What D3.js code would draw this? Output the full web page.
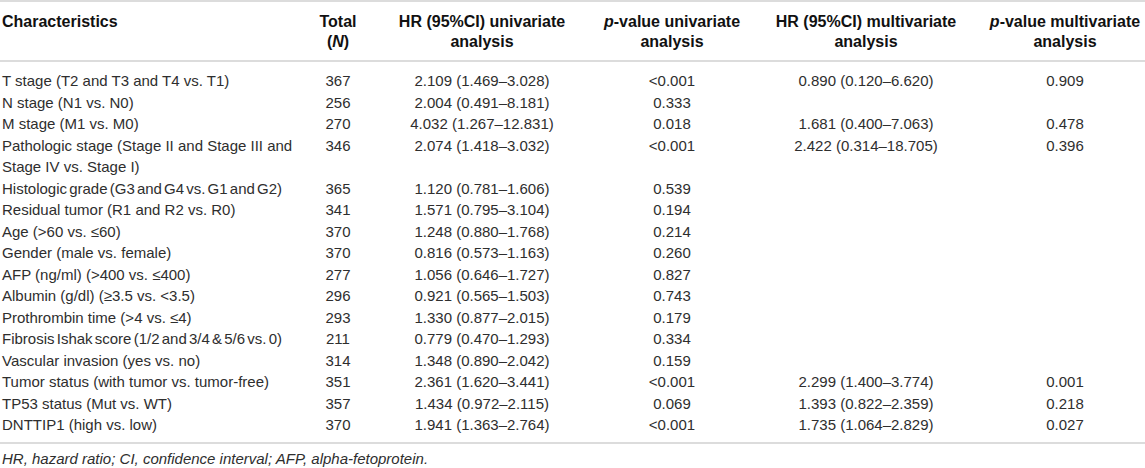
<!DOCTYPE html>
<html>
<head>
<meta charset="utf-8">
<script src="https://cdn.jsdelivr.net/npm/d3@7"></script>
<style>
  body { margin: 0; background: #fff; }
  svg text { font-family: "Liberation Sans", Arial, Helvetica, sans-serif; }
</style>
</head>
<body>
<div class="tableContainer"></div>
<script>
const WIDTH = 1145;
const HEIGHT = 468;
const FONT_SIZE = 15;
const HEAD_SIZE = 16;
const TEXT_COLOR = '#2e2e2e';
const RULE_COLOR = '#dcdcdc';

var characteristics = [
  'T stage (T2 and T3 and T4 vs. T1)',
  'N stage (N1 vs. N0)',
  'M stage (M1 vs. M0)',
  'Pathologic stage (Stage II and Stage III and Stage IV vs. Stage I)',
  'Histologic grade (G3 and G4 vs. G1 and G2)',
  'Residual tumor (R1 and R2 vs. R0)',
  'Age (>60 vs. ≤60)',
  'Gender (male vs. female)',
  'AFP (ng/ml) (>400 vs. ≤400)',
  'Albumin (g/dl) (≥3.5 vs. <3.5)',
  'Prothrombin time (>4 vs. ≤4)',
  'Fibrosis Ishak score (1/2 and 3/4 & 5/6 vs. 0)',
  'Vascular invasion (yes vs. no)',
  'Tumor status (with tumor vs. tumor-free)',
  'TP53 status (Mut vs. WT)',
  'DNTTIP1 (high vs. low)'
];
var totals = [367, 256, 270, 346, 365, 341, 370, 370, 277, 296, 293, 211, 314, 351, 357, 370];
var hrUnivariate = [
  '2.109 (1.469–3.028)', '2.004 (0.491–8.181)', '4.032 (1.267–12.831)', '2.074 (1.418–3.032)',
  '1.120 (0.781–1.606)', '1.571 (0.795–3.104)', '1.248 (0.880–1.768)', '0.816 (0.573–1.163)',
  '1.056 (0.646–1.727)', '0.921 (0.565–1.503)', '1.330 (0.877–2.015)', '0.779 (0.470–1.293)',
  '1.348 (0.890–2.042)', '2.361 (1.620–3.441)', '1.434 (0.972–2.115)', '1.941 (1.363–2.764)'
];
var pUnivariate = ['<0.001', '0.333', '0.018', '<0.001', '0.539', '0.194', '0.214', '0.260',
  '0.827', '0.743', '0.179', '0.334', '0.159', '<0.001', '0.069', '<0.001'];
var hrMultivariate = ['0.890 (0.120–6.620)', '', '1.681 (0.400–7.063)', '2.422 (0.314–18.705)',
  '', '', '', '', '', '', '', '', '', '2.299 (1.400–3.774)', '1.393 (0.822–2.359)', '1.735 (1.064–2.829)'];
var pMultivariate = ['0.909', '', '0.478', '0.396', '', '', '', '', '', '', '', '', '',
  '0.001', '0.218', '0.027'];
var footnote = 'HR, hazard ratio; CI, confidence interval; AFP, alpha-fetoprotein.';

// header pieces: [text, italic?] per line
var headers = [
  [[['Characteristics', false]], []],
  [[['Total', false]], [['(', false], ['N', true], [')', false]]],
  [[['HR (95%CI) univariate', false]], [['analysis', false]]],
  [[['p', true], ['-value univariate', false]], [['analysis', false]]],
  [[['HR (95%CI) multivariate', false]], [['analysis', false]]],
  [[['p', true], ['-value multivariate', false]], [['analysis', false]]]
];

var colX = [2, 338, 482, 672, 866, 1065];
var WRAP_WIDTH = 300;
var SQUEEZE_WIDTH = 280;

function wrapWords(svg, str, maxWidth) {
  var probe = svg.append('text').attr('font-size', FONT_SIZE);
  var words = str.split(' ');
  var lines = [];
  var cur = '';
  words.forEach(function (w) {
    var test = cur ? cur + ' ' + w : w;
    probe.text(test);
    if (probe.node().getComputedTextLength() > maxWidth && cur) {
      lines.push(cur);
      cur = w;
    } else {
      cur = test;
    }
  });
  lines.push(cur);
  probe.remove();
  return lines;
}

function drawTable() {
  var svg = d3.select('.tableContainer').append('svg')
    .attr('width', WIDTH)
    .attr('height', HEIGHT);

  // wrap first column, count lines per row
  var wrapped = characteristics.map(function (c) { return wrapWords(svg, c, WRAP_WIDTH); });
  var startLine = [];
  var n = 0;
  wrapped.forEach(function (w) { startLine.push(n); n += w.length; });

  var y = d3.scaleLinear().domain([0, n - 1]).range([86, 430]);

  // rules
  [1, 61, 443].forEach(function (ry) {
    svg.append('line')
      .attr('x1', 0).attr('x2', WIDTH)
      .attr('y1', ry).attr('y2', ry)
      .attr('stroke', RULE_COLOR)
      .attr('stroke-width', 2);
  });

  // header
  headers.forEach(function (h, i) {
    h.forEach(function (line, li) {
      var t = svg.append('text')
        .attr('x', colX[i])
        .attr('y', 27 + li * 20)
        .attr('font-size', HEAD_SIZE)
        .attr('font-weight', 'bold')
        .attr('fill', '#111')
        .attr('text-anchor', i === 0 ? 'start' : 'middle');
      line.forEach(function (part) {
        t.append('tspan').attr('font-style', part[1] ? 'italic' : 'normal').text(part[0]);
      });
    });
  });

  // body
  var columns = [null, totals, hrUnivariate, pUnivariate, hrMultivariate, pMultivariate];
  wrapped.forEach(function (lines, r) {
    lines.forEach(function (l, li) {
      var t = svg.append('text')
        .attr('x', colX[0])
        .attr('y', y(startLine[r] + li))
        .attr('font-size', FONT_SIZE)
        .attr('fill', TEXT_COLOR)
        .text(l);
      // long single lines are set tight in the original
      var w = t.node().getComputedTextLength();
      var spaces = l.split(' ').length - 1;
      if (lines.length === 1 && w > SQUEEZE_WIDTH && spaces > 0) {
        t.attr('word-spacing', -(w - SQUEEZE_WIDTH) / spaces);
      }
    });
    for (var c = 1; c < columns.length; c++) {
      svg.append('text')
        .attr('x', colX[c])
        .attr('y', y(startLine[r]))
        .attr('font-size', FONT_SIZE)
        .attr('fill', TEXT_COLOR)
        .attr('text-anchor', 'middle')
        .text(columns[c][r]);
    }
  });

  svg.append('text')
    .attr('x', colX[0])
    .attr('y', 464)
    .attr('font-size', FONT_SIZE)
    .attr('font-style', 'italic')
    .attr('fill', TEXT_COLOR)
    .text(footnote);
}

window.onload = drawTable;
</script>
</body>
</html>
